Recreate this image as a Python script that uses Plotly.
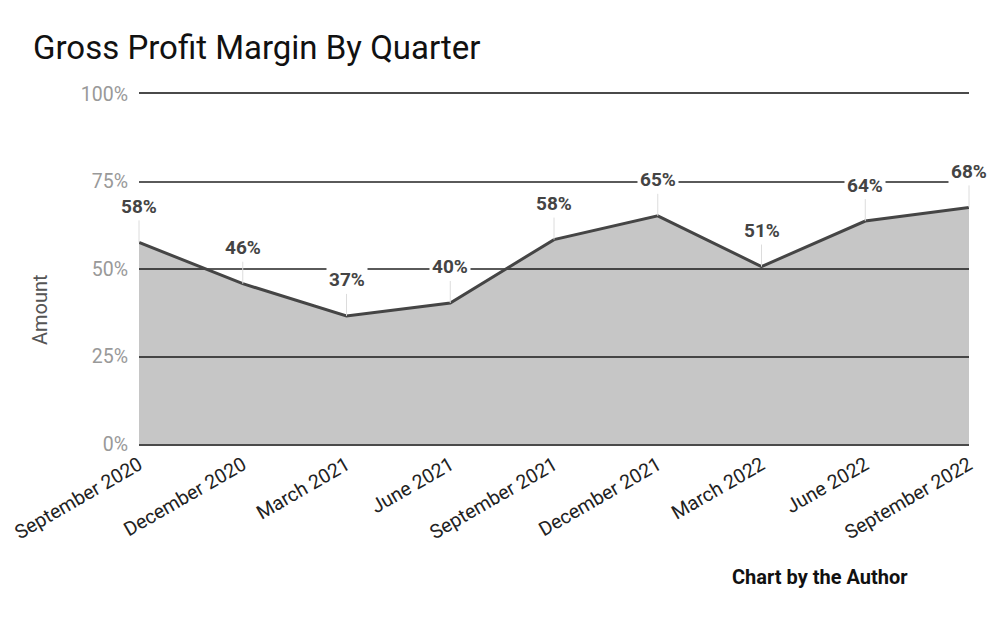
import plotly.graph_objects as go

quarters = ["September 2020", "December 2020", "March 2021", "June 2021",
            "September 2021", "December 2021", "March 2022", "June 2022",
            "September 2022"]
margin_pct = [57.6, 45.8, 36.6, 40.3, 58.4, 65.2, 50.7, 63.7, 67.6]
label_text = ["58%", "46%", "37%", "40%", "58%", "65%", "51%", "64%", "68%"]
y_ticks = [0, 25, 50, 75, 100]
y_tick_text = ["0%", "25%", "50%", "75%", "100%"]

FONT = "Roboto"

fig = go.Figure()
fig.add_trace(go.Scatter(
    x=list(range(len(quarters))), y=margin_pct,
    mode="lines", fill="tozeroy",
    fillcolor="rgba(0,0,0,0.225)",
    line=dict(color="#454545", width=3),
    hoverinfo="skip", showlegend=False,
))

for i, (v, t) in enumerate(zip(margin_pct, label_text)):
    fig.add_annotation(
        x=i, y=v, xref="x", yref="y", text=f"<b>{t}</b>",
        showarrow=True, ax=0, ay=-36, arrowhead=0, arrowwidth=1,
        arrowcolor="#dcdcdc", standoff=0,
        bgcolor="white", borderpad=2,
        font=dict(family=FONT, size=19, color="#444444"),
    )

fig.add_annotation(
    x=0.8205, y=-0.38, xref="paper", yref="paper",
    text="<b>Chart by the Author</b>", showarrow=False,
    xanchor="center", yanchor="middle",
    font=dict(family=FONT, size=20, color="#111111"),
)

fig.add_annotation(
    x=(40 - 139) / 830, y=(444 - 310) / 350, xref="paper", yref="paper",
    text="Amount", showarrow=False, textangle=-90,
    xanchor="center", yanchor="middle",
    font=dict(family=FONT, size=20, color="#555555"),
)

fig.update_layout(
    width=1000, height=618,
    margin=dict(l=139, r=31, t=94, b=174),
    paper_bgcolor="white", plot_bgcolor="white",
    title=dict(text="Gross Profit Margin By Quarter", x=0.033, xanchor="left",
               y=1 - 47 / 618, yanchor="middle", xref="container", yref="container",
               font=dict(family=FONT, size=33, color="#111111")),
    font=dict(family=FONT),
)

fig.update_xaxes(
    range=[0, len(quarters) - 1],
    tickmode="array", tickvals=list(range(len(quarters))), ticktext=quarters,
    tickangle=-30, showgrid=False, zeroline=False,
    showline=True, mirror=True, linecolor="#4a4a4a", linewidth=2,
    tickfont=dict(family=FONT, size=19.5, color="#222222"),
)
fig.update_yaxes(
    range=[0, 100], tickmode="array", tickvals=y_ticks, ticktext=y_tick_text,
    showgrid=True, gridcolor="#5a5a5a", gridwidth=2,
    zeroline=False,
    showline=False, ticklabelstandoff=10,
    tickfont=dict(family=FONT, size=19.5, color="#999999"),
)

fig.write_html("out.html")
